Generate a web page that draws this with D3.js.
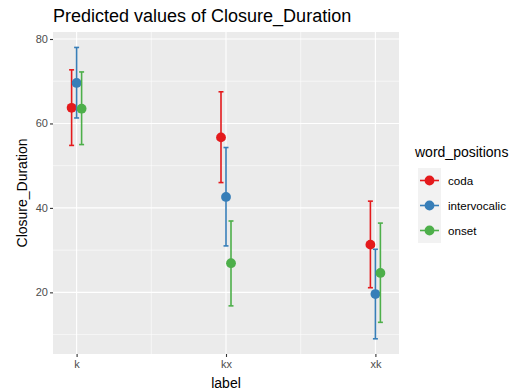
<!DOCTYPE html>
<html>
<head>
<meta charset="utf-8">
<script src="https://cdn.jsdelivr.net/npm/d3@7"></script>
<style>
  body { margin: 0; background: #fff; }
  text { font-family: "Liberation Sans", Arial, sans-serif; }
</style>
</head>
<body>
<svg id="chart" width="517" height="391"></svg>
<script>
// data
var labels = ["k", "kx", "xk"];
var positions = ["coda", "intervocalic", "onset"];
var colors = ["#E41A1C", "#377EB8", "#4DAF4A"];

var predicted = {
  coda:         [63.7, 56.7, 31.3],
  intervocalic: [69.6, 42.6, 19.6],
  onset:        [63.5, 26.9, 24.6]
};
var confLow = {
  coda:         [54.8, 46.0, 21.1],
  intervocalic: [61.3, 31.0, 9.0],
  onset:        [55.0, 16.8, 12.9]
};
var confHigh = {
  coda:         [72.7, 67.5, 41.6],
  intervocalic: [78.0, 54.3, 30.2],
  onset:        [72.2, 36.9, 36.4]
};
var yTicks = [20, 40, 60, 80];
var yMinor = [10, 30, 50, 70];

var svg = d3.select("#chart");
var panel = { left: 53, right: 399, top: 32, bottom: 354 }; // plot area

var x = d3.scalePoint().domain(labels).range([panel.left, panel.right]).padding(0.158);
var dodge = d3.scalePoint().domain(positions).range([-5, 5]);
var y = d3.scaleLinear().domain([5.4, 81.66]).range([panel.bottom, panel.top]);
var color = d3.scaleOrdinal().domain(positions).range(colors);

// panel background
svg.append("rect")
    .attr("x", panel.left).attr("y", panel.top)
    .attr("width", panel.right - panel.left)
    .attr("height", panel.bottom - panel.top)
    .attr("fill", "#EBEBEB");

// grid lines
var grid = svg.append("g");
grid.selectAll(".ymin").data(yMinor).enter().append("line")
    .attr("x1", panel.left).attr("x2", panel.right)
    .attr("y1", d => y(d)).attr("y2", d => y(d))
    .attr("stroke", "#fff").attr("stroke-width", 0.55);
var step = x.step();
grid.selectAll(".xmin").data(labels.slice(1)).enter().append("line")
    .attr("x1", d => x(d) - step / 2).attr("x2", d => x(d) - step / 2)
    .attr("y1", panel.top).attr("y2", panel.bottom)
    .attr("stroke", "#fff").attr("stroke-width", 0.55);
grid.selectAll(".ymaj").data(yTicks).enter().append("line")
    .attr("x1", panel.left).attr("x2", panel.right)
    .attr("y1", d => y(d)).attr("y2", d => y(d))
    .attr("stroke", "#fff").attr("stroke-width", 1.1);
grid.selectAll(".xmaj").data(labels).enter().append("line")
    .attr("x1", d => x(d)).attr("x2", d => x(d))
    .attr("y1", panel.top).attr("y2", panel.bottom)
    .attr("stroke", "#fff").attr("stroke-width", 1.1);

// axes
var yAxis = svg.append("g")
    .attr("transform", "translate(" + panel.left + ",0)")
    .call(d3.axisLeft(y).tickValues(yTicks).tickSize(3).tickPadding(2));
var xAxis = svg.append("g")
    .attr("transform", "translate(0," + panel.bottom + ")")
    .call(d3.axisBottom(x).tickSize(3).tickPadding(3));
[yAxis, xAxis].forEach(function(ax) {
  ax.select(".domain").remove();
  ax.selectAll(".tick line").attr("stroke", "#333").attr("stroke-width", 1.1);
  ax.selectAll(".tick text").attr("fill", "#4D4D4D").style("font-size", "11px");
});

// error bars and points
var rows = [];
positions.forEach(function(p) {
  labels.forEach(function(l, i) {
    rows.push({ pos: p, label: l, est: predicted[p][i], lo: confLow[p][i], hi: confHigh[p][i] });
  });
});

var marks = svg.append("g").selectAll("g").data(rows).enter().append("g")
    .attr("transform", d => "translate(" + (x(d.label) + dodge(d.pos)) + ",0)")
    .attr("stroke", d => color(d.pos))
    .attr("fill", d => color(d.pos));
marks.append("line")
    .attr("y1", d => y(d.lo)).attr("y2", d => y(d.hi))
    .attr("stroke-width", 1.6);
marks.append("line")
    .attr("x1", -2.5).attr("x2", 2.5)
    .attr("y1", d => y(d.lo)).attr("y2", d => y(d.lo))
    .attr("stroke-width", 1.6);
marks.append("line")
    .attr("x1", -2.5).attr("x2", 2.5)
    .attr("y1", d => y(d.hi)).attr("y2", d => y(d.hi))
    .attr("stroke-width", 1.6);
marks.append("circle")
    .attr("cy", d => y(d.est))
    .attr("r", 4.9)
    .attr("stroke", "none");

// titles
svg.append("text")
    .attr("x", panel.left).attr("y", 22)
    .style("font-size", "18px").attr("fill", "#000")
    .text("Predicted values of Closure_Duration");
svg.append("text")
    .attr("x", (panel.left + panel.right) / 2).attr("y", 388)
    .attr("text-anchor", "middle")
    .style("font-size", "14px").attr("fill", "#000")
    .text("label");
svg.append("text")
    .attr("transform", "translate(27," + ((panel.top + panel.bottom) / 2) + ") rotate(-90)")
    .attr("text-anchor", "middle")
    .style("font-size", "14px").attr("fill", "#000")
    .text("Closure_Duration");

// legend
var legend = svg.append("g").attr("transform", "translate(415,0)");
legend.append("text")
    .attr("x", 0).attr("y", 157)
    .style("font-size", "14px").attr("fill", "#000")
    .text("word_positions");
var items = legend.selectAll(".item").data(positions).enter().append("g")
    .attr("transform", (d, i) => "translate(3," + (168 + i * 25) + ")");
items.append("rect")
    .attr("width", 23).attr("height", 25)
    .attr("fill", "#F2F2F2");
items.append("line")
    .attr("x1", 2).attr("x2", 21).attr("y1", 12.5).attr("y2", 12.5)
    .attr("stroke", d => color(d)).attr("stroke-width", 1.6);
items.append("circle")
    .attr("cx", 11.5).attr("cy", 12.5).attr("r", 4.9)
    .attr("fill", d => color(d));
items.append("text")
    .attr("x", 30).attr("y", 16.5)
    .style("font-size", "11.6px").attr("fill", "#000")
    .text(d => d);
</script>
</body>
</html>
